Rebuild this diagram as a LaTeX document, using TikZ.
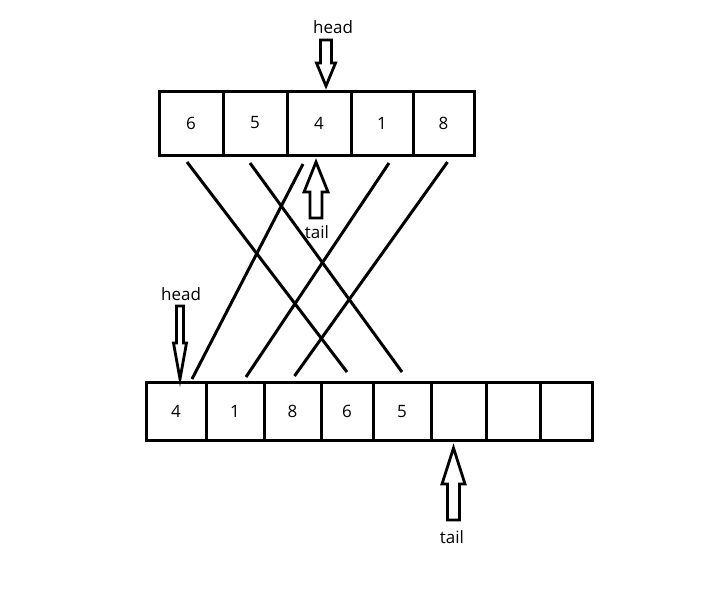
\documentclass[tikz,border=0pt]{standalone}
\usepackage{fontspec}
\setmainfont{Open Sans}
\usetikzlibrary{positioning}

\begin{document}
\begin{tikzpicture}[
    x=0.5pt, y=-0.5pt,
    cell/.style={draw, line width=1.5pt, minimum height=32pt, inner sep=0pt, outer sep=0pt, font=\fontsize{8.5}{10}\selectfont},
    lowcell/.style={cell, minimum height=29pt},
    link/.style={line width=1.5pt},
    hollow/.style={draw, line width=1.4pt, line join=miter, fill=white},
    lbl/.style={font=\fontsize{8.5}{10}\selectfont, inner sep=1pt}
  ]
  \useasboundingbox (0,0) rectangle (726,591);

  % Old queue
  \node[cell, minimum width=32pt, anchor=west] (t6) at (159,123) {6};
  \node[cell, minimum width=32pt, right=0pt of t6] (t5) {5};
  \node[cell, minimum width=32pt, right=0pt of t5] (t4) {4};
  \node[cell, minimum width=31pt, right=0pt of t4] (t1) {1};
  \node[cell, minimum width=30.5pt, right=0pt of t1] (t8) {8};

  % New queue
  \node[lowcell, minimum width=30pt, anchor=west] (b4) at (146,411) {4};
  \node[lowcell, minimum width=29pt, right=0pt of b4] (b1) {1};
  \node[lowcell, minimum width=28.5pt, right=0pt of b1] (b8) {8};
  \node[lowcell, minimum width=26pt, right=0pt of b8] (b6) {6};
  \node[lowcell, minimum width=29pt, right=0pt of b6] (b5) {5};
  \node[lowcell, minimum width=27.5pt, right=0pt of b5] (e1) {};
  \node[lowcell, minimum width=27pt, right=0pt of e1] (e2) {};
  \node[lowcell, minimum width=26pt, right=0pt of e2] (e3) {};

  % Copy lines
  \draw[link] ([shift={(-4,7)}]t6.south) -- ([shift={(0,-10)}]b6.north);
  \draw[link] ([shift={(-5,8)}]t5.south) -- ([shift={(0,-10)}]b5.north);
  \draw[link] ([shift={(-16,9)}]t4.south) -- ([shift={(16,-3)}]b4.north);
  \draw[link] ([shift={(7,8)}]t1.south) -- ([shift={(11,-5)}]b1.north);
  \draw[link] ([shift={(4,7)}]t8.south) -- ([shift={(2,-6)}]b8.north);

  % Pointers
  \node[lbl] (h1) at (333,27) {head};
  \draw[hollow] ([shift={(7,-5)}]t4.north) -- ++(-9.5,-23) -- ++(4,0) -- ++(0,-23)
    -- ++(11,0) -- ++(0,23) -- ++(4,0) -- cycle;
  \node[lbl] (tl1) at (317,232) {tail};
  \draw[hollow] ([shift={(-3,7)}]t4.south) -- ++(-12,30) -- ++(6,0) -- ++(0,26)
    -- ++(12,0) -- ++(0,-26) -- ++(6,0) -- cycle;

  \node[lbl] (h2) at (181,294) {head};
  \draw[hollow] ([shift={(4,-3)}]b4.north) -- ++(-6.5,-36) -- ++(3,0) -- ++(0,-37)
    -- ++(7,0) -- ++(0,37) -- ++(3,0) -- cycle;
  \node[lbl] (tl2) at (452,537) {tail};
  \draw[hollow] ([shift={(-5,8)}]e1.south) -- ++(-11.5,36) -- ++(5.5,0) -- ++(0,36)
    -- ++(12,0) -- ++(0,-36) -- ++(5.5,0) -- cycle;

\end{tikzpicture}
\end{document}
